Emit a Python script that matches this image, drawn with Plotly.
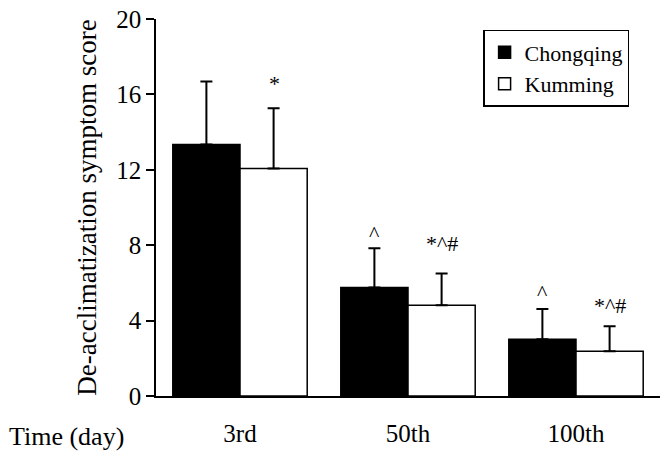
import plotly.graph_objects as go

categories = ["3rd", "50th", "100th"]
chongqing = [13.34, 5.76, 3.01]
chongqing_err = [3.35, 2.08, 1.61]
kumming = [12.07, 4.81, 2.38]
kumming_err = [3.20, 1.69, 1.32]
y_ticks = [0, 4, 8, 12, 16, 20]
chongqing_marks = ["", "^", "^"]
kumming_marks = ["*", "*^#", "*^#"]
chongqing_mark_y = [None, 8.6, 5.5]
kumming_mark_y = [16.6, 8.07, 4.79]

FONT = "Liberation Serif, Times New Roman, serif"

fig = go.Figure()
fig.add_bar(
    x=categories, y=chongqing, name="Chongqing",
    marker=dict(color="black", line=dict(color="black", width=1.5)),
    error_y=dict(type="data", array=chongqing_err, arrayminus=[0] * 3,
                 symmetric=False, color="black", thickness=2, width=6),
)
fig.add_bar(
    x=categories, y=kumming, name="Kumming",
    marker=dict(color="white", line=dict(color="black", width=1.5)),
    error_y=dict(type="data", array=kumming_err, arrayminus=[0] * 3,
                 symmetric=False, color="black", thickness=2, width=6),
)

annotations = []
for c, t, yv in zip(categories, chongqing_marks, chongqing_mark_y):
    if t:
        annotations.append(dict(x=c, y=yv, text=t, showarrow=False, xshift=-34,
                                font=dict(family=FONT, size=22, color="black")))
for c, t, yv in zip(categories, kumming_marks, kumming_mark_y):
    if t:
        annotations.append(dict(x=c, y=yv, text=t, showarrow=False, xshift=34,
                                font=dict(family=FONT, size=22, color="black")))
annotations.append(dict(xref="paper", yref="paper", x=-0.296, y=-0.108,
                        xanchor="left", yanchor="middle", text="Time (day)",
                        showarrow=False, font=dict(family=FONT, size=26, color="black")))

fig.update_layout(
    width=666, height=455,
    margin=dict(l=156, r=6, t=17, b=59),
    paper_bgcolor="white", plot_bgcolor="white",
    barmode="group", bargap=0.2, bargroupgap=0,
    showlegend=True,
    legend=dict(x=0.649, y=0.971, xanchor="left", yanchor="top",
                bordercolor="black", borderwidth=1.5, bgcolor="white",
                font=dict(family=FONT, size=22, color="black"),
                itemwidth=30, tracegroupgap=2),
    font=dict(family=FONT, color="black"),
    annotations=annotations,
)
fig.update_xaxes(
    showline=True, linecolor="black", linewidth=1.5, ticks="",
    tickfont=dict(family=FONT, size=25, color="black"), ticklabelstandoff=14,
    range=[-0.5, 2.5],
)
fig.update_yaxes(
    range=[0, 20], tickvals=y_ticks, showline=True, linecolor="black", linewidth=1.5,
    ticks="outside", ticklen=8, tickwidth=1.5, tickcolor="black",
    showgrid=False, zeroline=False,
    tickfont=dict(family=FONT, size=25, color="black"),
    title=dict(text="De-acclimatization symptom score", standoff=12,
               font=dict(family=FONT, size=27, color="black")),
)
fig.write_html("out.html", config={"displayModeBar": False},
               post_script="document.body.style.margin='0';document.body.style.overflow='hidden';")
